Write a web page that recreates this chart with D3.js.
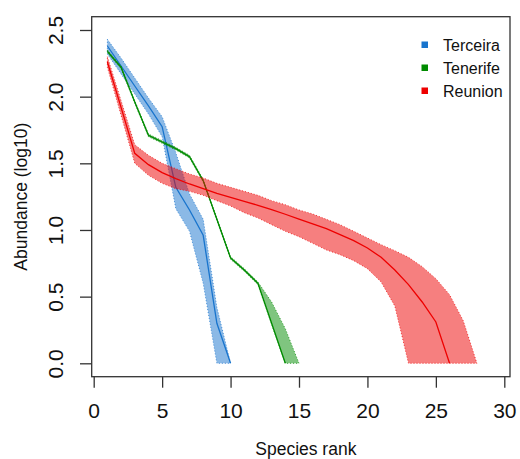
<!DOCTYPE html>
<html>
<head>
<meta charset="utf-8">
<script src="https://cdn.jsdelivr.net/npm/d3@7"></script>
<style>
  html, body { margin: 0; padding: 0; background: #fff; }
  svg { display: block; font-family: "Liberation Sans", Arial, Helvetica, sans-serif; }
</style>
</head>
<body>
<svg id="chart" width="520" height="459"></svg>
<script>
// ---- data (rank = index + 1) ----
const seriesNames = ["Terceira", "Tenerife", "Reunion"];
const seriesColors = ["#1874CD", "#008B00", "#EE0000"];

const terceiraMean = [2.38, 2.23, 2.08, 1.93, 1.775, 1.32, 1.15, 0.96, 0.30, 0.00];
const terceiraLow  = [2.32, 2.17, 2.02, 1.87, 1.70, 1.16, 0.99, 0.60, 0.00];
const terceiraHigh = [2.43, 2.29, 2.14, 1.99, 1.85, 1.58, 1.27, 1.08, 0.42, 0.00];

const tenerifeMean = [2.34, 2.22, 1.96, 1.71, 1.66, 1.61, 1.55, 1.37, 1.08, 0.79, 0.70, 0.60, 0.30, 0.00];
const tenerifeLow  = [2.33, 2.21, 1.95, 1.70, 1.65, 1.60, 1.54, 1.36, 1.07, 0.78, 0.69, 0.59, 0.29, 0.00];
const tenerifeHigh = [2.35, 2.23, 1.97, 1.72, 1.67, 1.62, 1.56, 1.38, 1.09, 0.80, 0.71, 0.61, 0.46, 0.26, 0.00];

const reunionMean = [2.26, 1.92, 1.575, 1.49, 1.43, 1.385, 1.345, 1.31, 1.275, 1.245, 1.215, 1.185, 1.152, 1.118, 1.082,
                     1.045, 1.01, 0.965, 0.92, 0.865, 0.795, 0.70, 0.59, 0.46, 0.31, 0.00];
const reunionLow  = [2.22, 1.86, 1.50, 1.41, 1.35, 1.31, 1.29, 1.26, 1.22, 1.18, 1.13, 1.09, 1.04, 0.99, 0.95,
                     0.90, 0.85, 0.815, 0.77, 0.71, 0.61, 0.43, 0.00];
const reunionHigh = [2.30, 1.97, 1.64, 1.56, 1.50, 1.46, 1.42, 1.39, 1.35, 1.32, 1.29, 1.26, 1.22, 1.19, 1.15,
                     1.12, 1.08, 1.04, 0.99, 0.94, 0.89, 0.845, 0.795, 0.725, 0.635, 0.515, 0.32, 0.00];

const xTicks = [0, 5, 10, 15, 20, 25, 30];
const yTicks = [0.0, 0.5, 1.0, 1.5, 2.0, 2.5];
const xTitle = "Species rank";
const yTitle = "Abundance (log10)";

const series = [
  { name: seriesNames[0], color: seriesColors[0], mean: terceiraMean, low: terceiraLow, high: terceiraHigh },
  { name: seriesNames[1], color: seriesColors[1], mean: tenerifeMean, low: tenerifeLow, high: tenerifeHigh },
  { name: seriesNames[2], color: seriesColors[2], mean: reunionMean, low: reunionLow, high: reunionHigh }
];

// ---- layout ----
const box = { left: 91.7, right: 510, top: 16.7, bottom: 376.7 };
const x = d3.scaleLinear().domain([0, 30]).range([93.7, 504.3]);
const y = d3.scaleLinear().domain([0, 2.5]).range([363.3, 30]);

const svg = d3.select("#chart");

const toPts = arr => arr.map((v, i) => [i + 1, v]);
const line = d3.line().x(d => x(d[0])).y(d => y(d[1]));

const plot = svg.append("g");
series.forEach(s => {
  const poly = toPts(s.high).concat(toPts(s.low).reverse());
  plot.append("path")
    .attr("d", line(poly) + "Z")
    .attr("fill", s.color)
    .attr("fill-opacity", 0.5)
    .attr("stroke", s.color)
    .attr("stroke-opacity", 0.75)
    .attr("stroke-width", 1)
    .attr("stroke-dasharray", "1,2");
  plot.append("path")
    .attr("d", line(toPts(s.mean)))
    .attr("fill", "none")
    .attr("stroke", s.color)
    .attr("stroke-width", 1.3);
});

// ---- box ----
svg.append("rect")
  .attr("x", box.left).attr("y", box.top)
  .attr("width", box.right - box.left).attr("height", box.bottom - box.top)
  .attr("fill", "none").attr("stroke", "#333").attr("stroke-width", 1.3);

// ---- x axis ----
const xAxis = d3.axisBottom(x).tickValues(xTicks).tickSize(11).tickPadding(4).tickFormat(d3.format("d"));
const gx = svg.append("g").attr("transform", `translate(0,${box.bottom})`).call(xAxis);
gx.select(".domain").remove();
gx.selectAll(".tick line").attr("stroke", "#333").attr("stroke-width", 1.3);
gx.selectAll(".tick text").attr("fill", "#111").style("font-size", "21px").attr("dy", null).attr("y", 41.5);

// ---- y axis ----
const yAxis = d3.axisLeft(y).tickValues(yTicks).tickSize(11.7).tickFormat(d3.format(".1f"));
const gy = svg.append("g").attr("transform", `translate(${box.left},0)`).call(yAxis);
gy.select(".domain").remove();
gy.selectAll(".tick line").attr("stroke", "#333").attr("stroke-width", 1.3);
gy.selectAll(".tick text")
  .attr("fill", "#111").style("font-size", "21px")
  .attr("x", null).attr("dy", null)
  .attr("text-anchor", "middle")
  .attr("transform", `translate(${63 - box.left},0) rotate(-90)`);

// ---- titles ----
svg.append("text")
  .attr("x", (box.left + box.right) / 2 + 5).attr("y", 455)
  .attr("text-anchor", "middle").style("font-size", "17.5px").attr("fill", "#111")
  .text(xTitle);
svg.append("text")
  .attr("transform", `translate(27,${(box.top + box.bottom) / 2}) rotate(-90)`)
  .attr("text-anchor", "middle").style("font-size", "17.5px").attr("fill", "#111")
  .text(yTitle);

// ---- legend ----
const legend = svg.append("g");
series.forEach((s, i) => {
  const cy = 44.5 + i * 23;
  legend.append("rect")
    .attr("x", 421.5).attr("y", cy - 3).attr("width", 6.5).attr("height", 6.5)
    .attr("fill", s.color);
  legend.append("text")
    .attr("x", 443).attr("y", cy + 6)
    .style("font-size", "16px").attr("fill", "#111")
    .text(s.name);
});
</script>
</body>
</html>
